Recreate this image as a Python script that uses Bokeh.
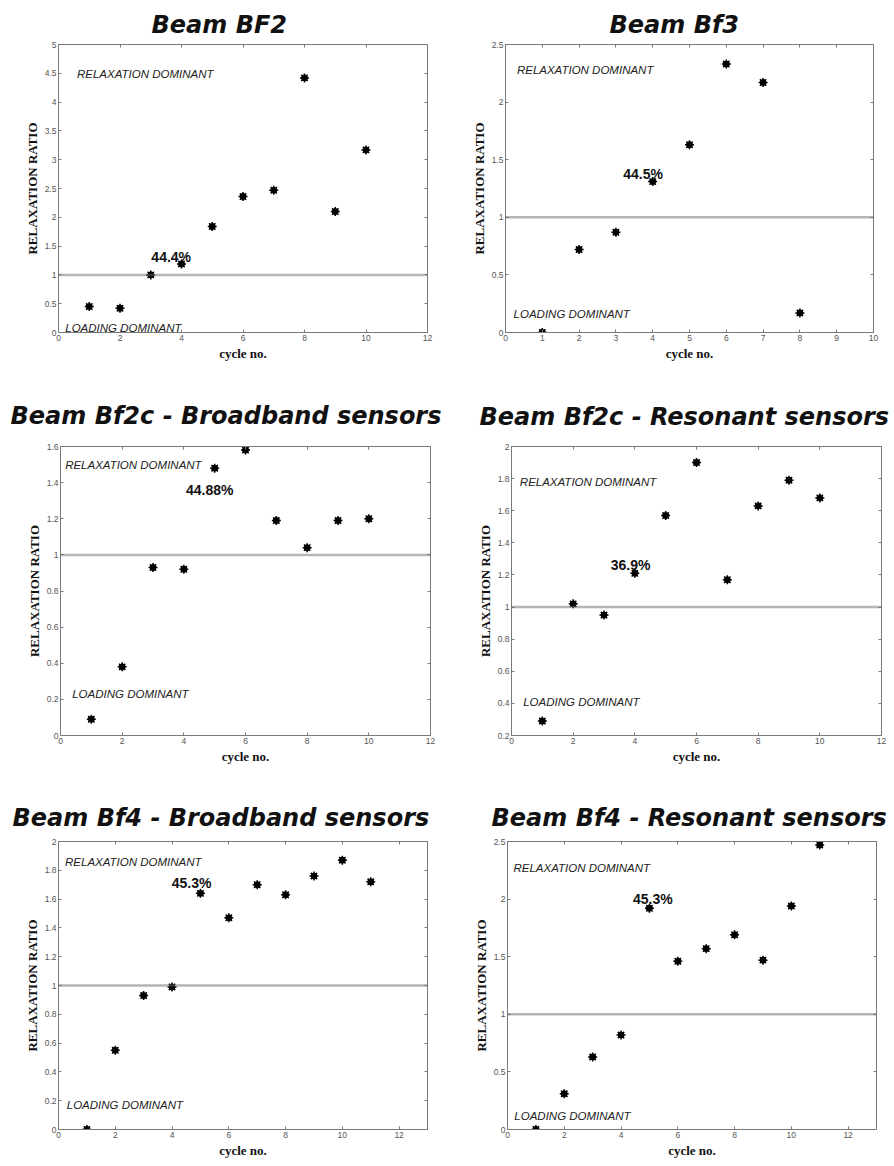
from bokeh.plotting import figure
from bokeh.layouts import column, row
from bokeh.models import Span, FixedTicker, PrintfTickFormatter, LinearAxis, Range1d
from bokeh.core.properties import value
from bokeh.embed import file_html
from bokeh.resources import INLINE

# ---------------- data ----------------
titles = ["Beam BF2", "Beam Bf3", "Beam Bf2c - Broadband sensors",
          "Beam Bf2c - Resonant sensors", "Beam Bf4 - Broadband sensors",
          "Beam Bf4 - Resonant sensors"]

bf2_cycle = [1, 2, 3, 4, 5, 6, 7, 8, 9, 10]
bf2_ratio = [0.45, 0.42, 1.00, 1.19, 1.84, 2.36, 2.47, 4.42, 2.10, 3.17]

bf3_cycle = [1, 2, 3, 4, 5, 6, 7, 8]
bf3_ratio = [0.00, 0.72, 0.87, 1.31, 1.63, 2.33, 2.17, 0.17]

bf2c_bb_cycle = [1, 2, 3, 4, 5, 6, 7, 8, 9, 10]
bf2c_bb_ratio = [0.09, 0.38, 0.93, 0.92, 1.48, 1.58, 1.19, 1.04, 1.19, 1.20]

bf2c_res_cycle = [1, 2, 3, 4, 5, 6, 7, 8, 9, 10]
bf2c_res_ratio = [0.29, 1.02, 0.95, 1.21, 1.57, 1.90, 1.17, 1.63, 1.79, 1.68]

bf4_bb_cycle = [1, 2, 3, 4, 5, 6, 7, 8, 9, 10, 11]
bf4_bb_ratio = [0.00, 0.55, 0.93, 0.99, 1.64, 1.47, 1.70, 1.63, 1.76, 1.87, 1.72]

bf4_res_cycle = [1, 2, 3, 4, 5, 6, 7, 8, 9, 10, 11]
bf4_res_ratio = [0.00, 0.31, 0.63, 0.82, 1.92, 1.46, 1.57, 1.69, 1.47, 1.94, 2.47]

threshold = 1.0

percent_labels = ["44.4%", "44.5%", "44.88%", "36.9%", "45.3%", "45.3%"]
percent_x = [3.02, 3.20, 4.07, 3.22, 3.99, 4.42]
percent_y = [1.31, 1.38, 1.36, 1.26, 1.71, 2.00]

relax_label = "RELAXATION DOMINANT"
relax_x = [0.60, 0.31, 0.15, 0.27, 0.23, 0.21]
relax_y = [4.49, 2.28, 1.50, 1.78, 1.86, 2.27]

load_label = "LOADING DOMINANT"
load_x = [0.22, 0.22, 0.38, 0.38, 0.29, 0.24]
load_y = [0.086, 0.158, 0.23, 0.41, 0.17, 0.114]

x_ranges = [(0, 12), (0, 10), (0, 12), (0, 12), (0, 13), (0, 13)]
y_ranges = [(0, 5), (0, 2.5), (0, 1.6), (0.2, 2), (0, 2), (0, 2.5)]
x_ticks = [[0, 2, 4, 6, 8, 10, 12], [0, 1, 2, 3, 4, 5, 6, 7, 8, 9, 10],
           [0, 2, 4, 6, 8, 10, 12], [0, 2, 4, 6, 8, 10, 12],
           [0, 2, 4, 6, 8, 10, 12], [0, 2, 4, 6, 8, 10, 12]]
y_ticks = [[0, 0.5, 1, 1.5, 2, 2.5, 3, 3.5, 4, 4.5, 5],
           [0, 0.5, 1, 1.5, 2, 2.5],
           [0, 0.2, 0.4, 0.6, 0.8, 1, 1.2, 1.4, 1.6],
           [0.2, 0.4, 0.6, 0.8, 1, 1.2, 1.4, 1.6, 1.8, 2],
           [0, 0.2, 0.4, 0.6, 0.8, 1, 1.2, 1.4, 1.6, 1.8, 2],
           [0, 0.5, 1, 1.5, 2, 2.5]]

series = [(bf2_cycle, bf2_ratio), (bf3_cycle, bf3_ratio),
          (bf2c_bb_cycle, bf2c_bb_ratio), (bf2c_res_cycle, bf2c_res_ratio),
          (bf4_bb_cycle, bf4_bb_ratio), (bf4_res_cycle, bf4_res_ratio)]

# ---------------- layout (sizes / borders) ----------------
# width, height, border left, right, top, bottom, title offset, title standoff
layout_spec = [
    dict(w=447, h=370, bl=58, br=20, bt=44, bb=35, toff=93, tst=12),
    dict(w=447, h=370, bl=58, br=21, bt=42, bb=38, toff=104, tst=11),
    dict(w=447, h=400, bl=60, br=17, bt=76, bb=33, toff=-50, tst=33),
    dict(w=447, h=400, bl=64, br=13, bt=75, bb=35, toff=-32, tst=32),
    dict(w=447, h=395, bl=58, br=20, bt=71, bb=33, toff=-46, tst=20),
    dict(w=447, h=395, bl=60, br=18, bt=68, bb=36, toff=-16, tst=19),
]

AX_COL = "#7a7a7a"
TICK_LBL_COL = "#555555"


def edge_axis(ticks):
    # MATLAB-style tick marks on the top / right edge, no labels
    return LinearAxis(ticker=FixedTicker(ticks=ticks),
                      major_label_text_font_size="1px",
                      major_label_text_color=None,
                      major_label_standoff=0,
                      major_tick_in=3, major_tick_out=0,
                      minor_tick_line_color=None, axis_line_color=AX_COL,
                      major_tick_line_color=AX_COL)


def make_panel(i):
    sp = layout_spec[i]
    p = figure(width=sp["w"], height=sp["h"], output_backend="svg",
               toolbar_location=None,
               x_range=Range1d(*x_ranges[i]), y_range=Range1d(*y_ranges[i]),
               min_border_left=sp["bl"], min_border_right=sp["br"],
               min_border_top=sp["bt"], min_border_bottom=sp["bb"])
    p.background_fill_color = "white"
    p.border_fill_color = "white"
    p.outline_line_color = AX_COL
    p.outline_line_width = 1
    p.grid.visible = False

    p.title.text = titles[i]
    p.title.text_font = "DejaVu Sans"
    p.title.text_font_style = "bold italic"
    p.title.text_font_size = "24px"
    p.title.text_color = "#111111"
    p.title.align = "left"
    p.title.offset = sp["toff"]
    p.title.standoff = sp["tst"]

    p.xaxis.axis_label = "cycle no."
    p.yaxis.axis_label = "RELAXATION RATIO"
    for ax in (p.xaxis[0], p.yaxis[0]):
        ax.axis_label_text_font = "Liberation Serif"
        ax.axis_label_text_font_style = "bold"
        ax.axis_label_text_font_size = "13px"
        ax.axis_label_text_color = "#111111"
        ax.major_label_text_font = "Liberation Sans"
        ax.major_label_text_font_size = "8.5px"
        ax.major_label_text_color = TICK_LBL_COL
        ax.major_label_standoff = 2
        ax.axis_label_standoff = 2
        ax.major_tick_in = 3
        ax.major_tick_out = 0
        ax.minor_tick_line_color = None
        ax.axis_line_color = AX_COL
        ax.major_tick_line_color = AX_COL
        ax.formatter = PrintfTickFormatter(format="%g")
    p.xaxis[0].ticker = FixedTicker(ticks=x_ticks[i])
    p.yaxis[0].ticker = FixedTicker(ticks=y_ticks[i])

    p.add_layout(edge_axis(x_ticks[i]), "above")
    p.add_layout(edge_axis(y_ticks[i]), "right")

    p.add_layout(Span(location=threshold, dimension="width",
                      line_color="#6a6a6a", line_width=2.5, line_dash="1 1"))

    xs, ys = series[i]
    p.scatter(xs, ys, marker="circle", size=6, fill_color="black",
              line_color="black")
    p.scatter(xs, ys, marker="asterisk", size=9, line_color="black",
              line_width=1.5)

    p.text(x=[relax_x[i]], y=[relax_y[i]], text=[relax_label],
           text_font=value("Liberation Sans"), text_font_style="italic",
           text_font_size="11.5px", text_color="#222222",
           text_align="left", text_baseline="alphabetic")
    p.text(x=[load_x[i]], y=[load_y[i]], text=[load_label],
           text_font=value("Liberation Sans"), text_font_style="italic",
           text_font_size="11.5px", text_color="#222222",
           text_align="left", text_baseline="alphabetic")
    p.text(x=[percent_x[i]], y=[percent_y[i]], text=[percent_labels[i]],
           text_font=value("Liberation Sans"), text_font_style="bold",
           text_font_size="14px", text_color="#111111",
           text_align="left", text_baseline="alphabetic")
    return p


panels = [make_panel(i) for i in range(6)]
layout = column(row(panels[0], panels[1]),
                row(panels[2], panels[3]),
                row(panels[4], panels[5]))

open("out.html", "w").write(file_html(layout, INLINE))
